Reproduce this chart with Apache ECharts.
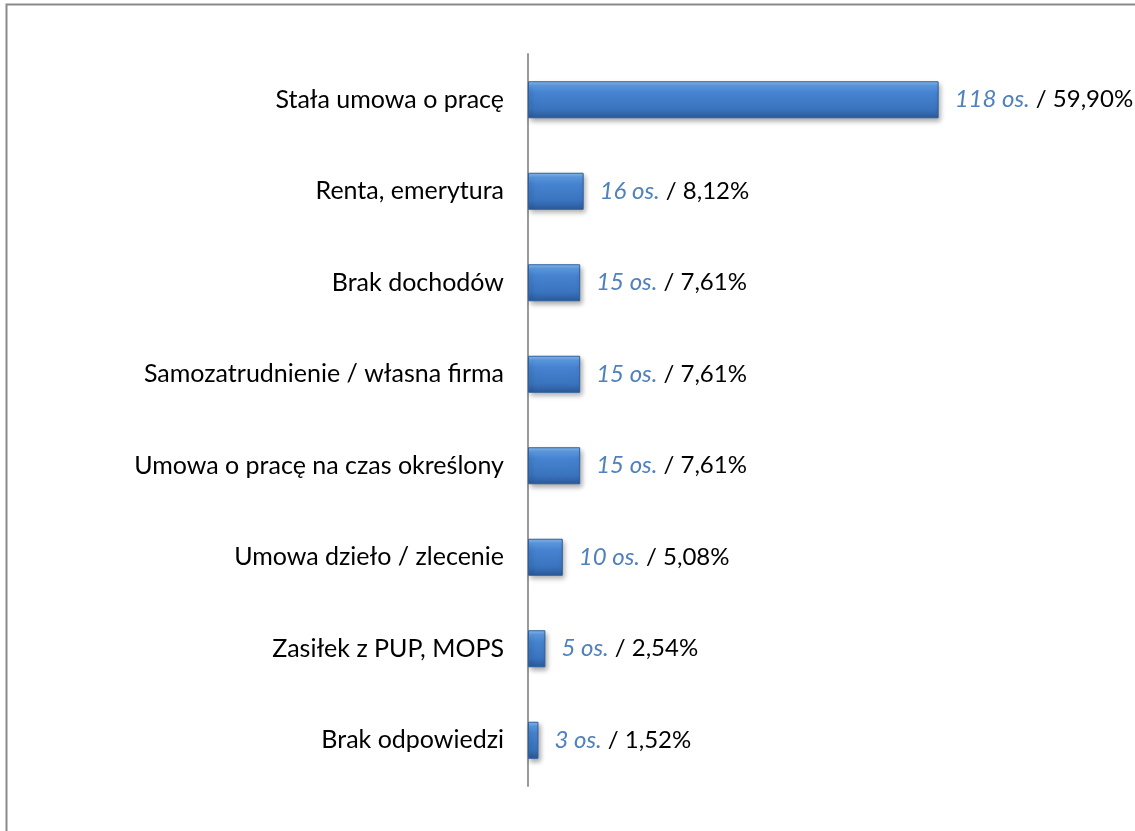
<!DOCTYPE html>
<html><head><meta charset="utf-8">
<script src="https://cdn.jsdelivr.net/npm/echarts@6/dist/echarts.min.js"></script>
<style>html,body{margin:0;padding:0;background:#fff}#c{width:1135px;height:831px}</style>
</head><body><div id="c"></div>
<script>
const categories = ['Stała umowa o pracę','Renta, emerytura','Brak dochodów','Samozatrudnienie / własna firma','Umowa o pracę na czas określony','Umowa dzieło / zlecenie','Zasiłek z PUP, MOPS','Brak odpowiedzi'];
const counts = [118,16,15,15,15,10,5,3];
const percents = ['59,90%','8,12%','7,61%','7,61%','7,61%','5,08%','2,54%','1,52%'];

const chart = echarts.init(document.getElementById('c'));
const font = 'Lato, "Open Sans", sans-serif';
chart.setOption({
  animation:false,
  graphic:[{type:'rect',silent:true,shape:{x:6.5,y:4.5,width:1300,height:1000},style:{fill:'none',stroke:'#8a8a8a',lineWidth:2}}],
  grid:{left:528,top:54,bottom:45,right:85,containLabel:false},
  xAxis:{type:'value',min:0,max:150,show:false},
  yAxis:{type:'category',data:categories,inverse:true,
    axisLine:{show:true,lineStyle:{color:'#9a9a9a',width:2}},
    axisTick:{show:false},
    axisLabel:{margin:24,fontSize:25,color:'#000',fontFamily:font}},
  series:[{type:'bar',data:counts,barWidth:37,
    itemStyle:{
      color:new echarts.graphic.LinearGradient(0,0,0,1,[
        {offset:0,color:'#8cc0f2'},{offset:0.12,color:'#5e9ce4'},{offset:0.3,color:'#4683d0'},
        {offset:0.75,color:'#3a74bf'},{offset:1,color:'#2b5a98'}]),
      borderColor:'#2d5f9e',borderWidth:1,
      shadowColor:'rgba(0,0,0,0.35)',shadowBlur:5,shadowOffsetX:2,shadowOffsetY:3},
    label:{show:true,position:'right',distance:16,fontFamily:font,fontSize:24,
      formatter:function(p){return '{a|'+counts[p.dataIndex]+' os.} {b|/ '+percents[p.dataIndex]+'}';},
      rich:{a:{color:'#4f81bd',fontStyle:'italic',fontSize:24,fontFamily:font},
            b:{color:'#000',fontSize:24,fontFamily:font}}}
  }]
});
</script></body></html>
